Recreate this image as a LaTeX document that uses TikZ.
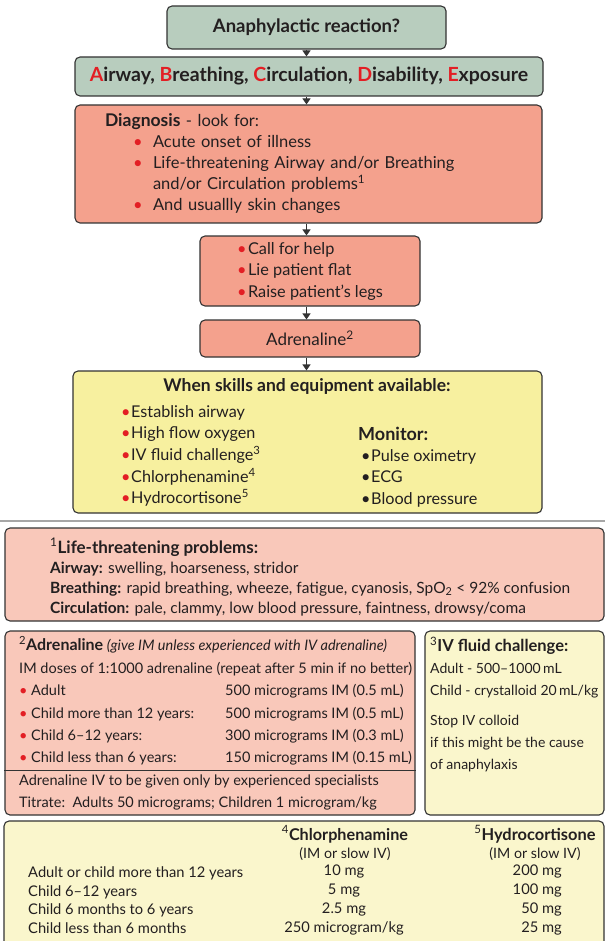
\documentclass[tikz,border=0pt]{standalone}
\usepackage{fontspec}
\setmainfont{Lato}
\usetikzlibrary{arrows.meta}
\definecolor{sage}{HTML}{B8CDBE}
\definecolor{salmon}{HTML}{F4A18D}
\definecolor{blush}{HTML}{F9C8BA}
\definecolor{lemon}{HTML}{F7F09F}
\definecolor{cream}{HTML}{FAF6CC}
\definecolor{edge}{HTML}{333333}
\definecolor{alert}{HTML}{E31E24}
\definecolor{divider}{HTML}{A6A6A6}
\definecolor{ink}{HTML}{231F20}
\newcommand{\fs}[2]{\fontsize{#1}{#2}\selectfont}
\newcommand{\redl}[1]{{\color{alert}#1}}
\newcommand{\rdot}[1][20pt]{\makebox[#1][l]{\color{alert}\textbullet}}
\newcommand{\kdot}{\makebox[10pt][l]{\textbullet}}
\tikzset{
  card/.style={draw=edge,line width=1.1pt,rounded corners=5pt,fill=#1,inner sep=0pt,text=ink},
  flow/.style={-{Triangle[width=8pt,length=6pt]},edge,line width=1.1pt},
  txt/.style={inner sep=0pt,align=left,anchor=west,text=ink},
}

\begin{document}
\begin{tikzpicture}[x=1pt,y=-1pt]
\useasboundingbox (0,0) rectangle (605,941);
% flow chart
\node[card=sage,minimum width=279pt,minimum height=43pt] (react) at (306.5,27.5) {\fs{18.5}{21}\bfseries Anaphylactic reaction?};
\node[card=sage,minimum width=468pt,minimum height=39pt] (abcde) at (309,76.5) {\fs{19.5}{22}\bfseries\redl{A}irway, \redl{B}reathing, \redl{C}irculation, \redl{D}isability, \redl{E}xposure};
\node[card=salmon,minimum width=467pt,minimum height=118pt,text width=407pt,align=left,font=\fs{16.5}{21}] (diag) at (308.5,164) {{\fs{17.5}{21}\textbf{Diagnosis}} - look for:\\
\hspace*{28pt}\rdot Acute onset of illness\\
\hspace*{28pt}\rdot Life-threatening Airway and/or Breathing\\
\hspace*{48pt}and/or Circulation problems\textsuperscript{1}\\
\hspace*{28pt}\rdot And usuallly skin changes};
\node[card=salmon,minimum width=220pt,minimum height=70pt,align=left,font=\fs{16.3}{21.5}] (act) at (310,271) {\rdot[11pt]Call for help\\\rdot[11pt]Lie patient flat\\\rdot[11pt]Raise patient's legs};
\node[card=salmon,minimum width=220pt,minimum height=37pt,font=\fs{17}{20}] (adr) at (310,338.5) {Adrenaline\textsuperscript{2}};
\node[card=lemon,minimum width=469pt,minimum height=142pt] (skills) at (307.5,442) {};
\node[txt,anchor=center,font=\fs{17.5}{20}\bfseries] (skillshead) at (307,386) {When skills and equipment available:};
\node[txt,font=\fs{16.2}{21.7}] (skillslist) at (121,456) {\rdot[10pt]Establish airway\\\rdot[10pt]High flow oxygen\\\rdot[10pt]IV fluid challenge\textsuperscript{3}\\\rdot[10pt]Chlorphenamine\textsuperscript{4}\\\rdot[10pt]Hydrocortisone\textsuperscript{5}};
\node[txt,font=\fs{16.2}{21.3}] (monitor) at (358,467) {{\fs{18}{21.3}\textbf{Monitor:}}\\\hspace*{3pt}\kdot Pulse oximetry\\\hspace*{3pt}\kdot ECG\\\hspace*{3pt}\kdot Blood pressure};
\draw[flow] (react) -- (react |- abcde.north);
\draw[flow] (react |- abcde.south) -- (react |- diag.north);
\draw[flow] (react |- diag.south) -- (react |- act.north);
\draw[flow] (react |- act.south) -- (react |- adr.north);
\draw[flow] (react |- adr.south) -- (react |- skills.north);
% footnotes
\draw[divider,line width=2.5pt] (0,521) -- (605,521);
\node[card=blush,minimum width=599pt,minimum height=93pt] (life) at (304.5,574.5) {};
\node[txt,font=\fs{15.5}{20}] (lifetext) at (50,577) {{\fs{17}{20}\textsuperscript{1}\textbf{Life-threatening problems:}}\\
\textbf{Airway:} swelling, hoarseness, stridor\\
\textbf{Breathing:} rapid breathing, wheeze, fatigue, cyanosis, SpO\textsubscript{2} < 92\% confusion\\
\textbf{Circulation:} pale, clammy, low blood pressure, faintness, drowsy/coma};
\node[card=blush,minimum width=410pt,minimum height=184pt] (adrbox) at (210,723) {};
\coordinate (adrcut) at (0,770);
\draw[edge,line width=0.9pt] (adrbox.west |- adrcut) -- (adrbox.east |- adrcut);
\node[txt,font=\fs{14.5}{22.4}] (adrdose) at (19,701) {{\fs{16}{22.4}\textsuperscript{2}\textbf{Adrenaline}} \textit{(give IM unless experienced with IV adrenaline)}\\
IM doses of 1:1000 adrenaline (repeat after 5 min if no better)\\
\makebox[206pt][l]{\rdot[12pt]Adult}500 micrograms IM (0.5 mL)\\
\makebox[206pt][l]{\rdot[12pt]Child more than 12 years:}500 micrograms IM (0.5 mL)\\
\makebox[206pt][l]{\rdot[12pt]Child 6--12 years:}300 micrograms IM (0.3 mL)\\
\makebox[206pt][l]{\rdot[12pt]Child less than 6 years:}150 micrograms IM (0.15 mL)};
\node[txt,font=\fs{14.5}{22}] (adriv) at (19,792) {Adrenaline IV to be given only by experienced specialists\\
Titrate:\ \ Adults 50 micrograms; Children 1 microgram/kg};
\node[card=cream,minimum width=179pt,minimum height=184pt] (ivbox) at (514.5,723) {};
\node[txt,font=\fs{14}{22}] (ivtext) at (430,704.5) {{\fs{16.5}{22}\textsuperscript{3}\textbf{IV fluid challenge:}}\\
Adult - 500--1000\,mL\\
Child - crystalloid 20\,mL/kg\\[8pt]
Stop IV colloid\\
if this might be the cause\\
of anaphylaxis};
\node[card=cream,minimum width=600pt,minimum height=130pt] (drugs) at (304,886) {};
\node[txt,anchor=center,align=center,font=\fs{14.2}{18}] (chlorhead) at (345,843) {{\fs{16.2}{18}\textsuperscript{4}\textbf{Chlorphenamine}}\\(IM or slow IV)};
\node[txt,anchor=center,align=center,font=\fs{14.2}{18}] (hydrohead) at (535,843) {{\fs{16.4}{18}\textsuperscript{5}\textbf{Hydrocortisone}}\\(IM or slow IV)};
\node[txt,font=\fs{14.7}{18.7}] (ages) at (28,900) {Adult or child more than 12 years\\Child 6--12 years\\Child 6 months to 6 years\\Child less than 6 months};
\node[txt,anchor=center,align=center,font=\fs{14.7}{18.7}] (chlordose) at (344,900) {10 mg\\5 mg\\2.5 mg\\250 microgram/kg};
\node[txt,anchor=east,align=right,font=\fs{14.7}{18.7}] (hydrodose) at (562,900) {200 mg\\100 mg\\50 mg\\25 mg};
\end{tikzpicture}
\end{document}
